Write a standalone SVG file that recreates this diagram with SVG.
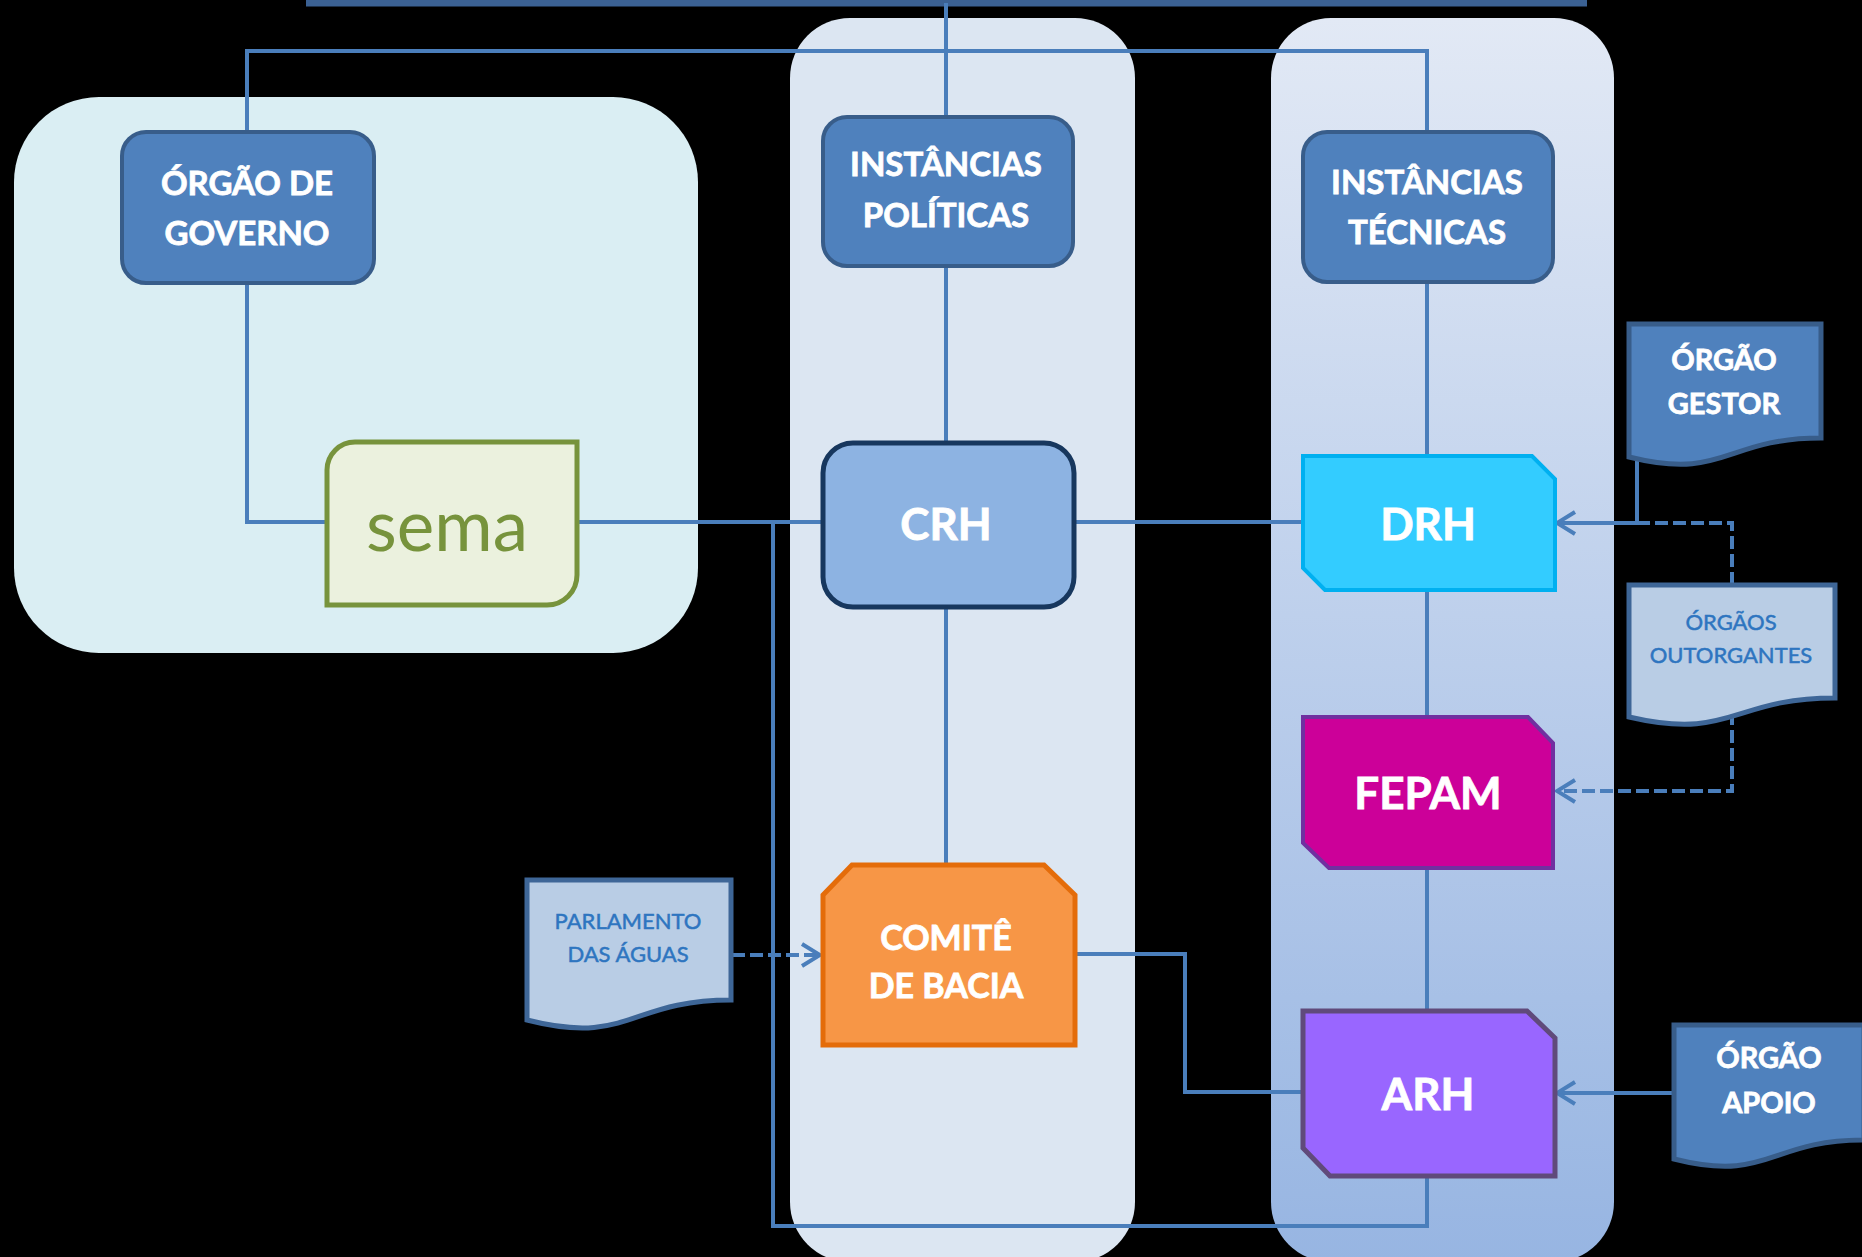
<svg xmlns="http://www.w3.org/2000/svg" width="1862" height="1257" viewBox="0 0 1862 1257">
<style>
.conn{fill:none;stroke:#4a7ebb;stroke-width:4}
.dash{fill:none;stroke:#4a7ebb;stroke-width:4;stroke-dasharray:13 5}
.bold{font-family:Lato,"Liberation Sans",sans-serif;font-weight:bold;fill:#ffffff;stroke:#ffffff;stroke-width:0.8;text-anchor:middle}
.reg{font-family:Lato,"Liberation Sans",sans-serif;text-anchor:middle}
.mainbox{fill:#4f81bd;stroke:#385d8a;stroke-width:4}
.doc1{fill:#4f81bd;stroke:#385d8a;stroke-width:5}
.doc2{fill:#b9cde5;stroke:#3e6697;stroke-width:5}
.doctext{font-family:Lato,"Liberation Sans",sans-serif;fill:#2e75c0;stroke:#2e75c0;stroke-width:0.5;text-anchor:middle;font-size:22px}
</style>
<defs>
<linearGradient id="gr" x1="0" y1="0" x2="0" y2="1">
<stop offset="0" stop-color="#e2e9f5"/>
<stop offset="1" stop-color="#97b5e2"/>
</linearGradient>
<marker id="arr" viewBox="0 0 22 26" refX="20" refY="13" markerWidth="22" markerHeight="26" markerUnits="userSpaceOnUse" orient="auto">
<path d="M2,2 L20,13 L2,24" fill="none" stroke="#4a7ebb" stroke-width="4"/>
</marker>
</defs>
<rect width="1862" height="1257" fill="#000000"/>
<g id="panels">
<rect x="14" y="97" width="684" height="556" rx="85" fill="#daeef3"/>
<rect x="790" y="18" width="345" height="1244" rx="60" fill="#dce6f2"/>
<rect x="1271" y="18" width="343" height="1244" rx="60" fill="url(#gr)"/>
</g>
<g id="connectors">
<line x1="306" y1="3" x2="1587" y2="3" stroke="#3b6193" stroke-width="7"/>
<path class="conn" d="M946,3 V117"/>
<path class="conn" d="M247,132 V51 H1427 V132"/>
<path class="conn" d="M247,283 V522 H327"/>
<path class="conn" d="M577,522 H823"/>
<path class="conn" d="M773,522 V1226 H1427 V1176"/>
<path class="conn" d="M946,266 V442"/>
<path class="conn" d="M946,607 V865"/>
<path class="conn" d="M1075,522 H1303"/>
<path class="conn" d="M1427,282 V456"/>
<path class="conn" d="M1427,590 V717"/>
<path class="conn" d="M1427,868 V1011"/>
<path class="conn" d="M1075,954 H1185 V1092 H1303"/>
<path class="conn" d="M1674,1093 H1557" marker-end="url(#arr)"/>
<path class="conn" d="M1637,455 V523 H1557" marker-end="url(#arr)"/>
<path class="dash" d="M1732,585 V523 H1637"/>
<path class="dash" d="M1732,712 V791 H1557" marker-end="url(#arr)"/>
<path class="dash" d="M732,955 H820" marker-end="url(#arr)"/>
</g>
<g id="orgao-governo">
<rect class="mainbox" x="122" y="132" width="252" height="151" rx="24"/>
<text class="bold" x="247" y="195" font-size="33">ÓRGÃO DE</text>
<text class="bold" x="247" y="245" font-size="33">GOVERNO</text>
</g>
<g id="instancias-politicas">
<rect class="mainbox" x="823" y="117" width="250" height="149" rx="24"/>
<text class="bold" x="946" y="176" font-size="33">INSTÂNCIAS</text>
<text class="bold" x="946" y="227" font-size="33">POLÍTICAS</text>
</g>
<g id="instancias-tecnicas">
<rect class="mainbox" x="1303" y="132" width="250" height="150" rx="24"/>
<text class="bold" x="1427" y="194" font-size="33">INSTÂNCIAS</text>
<text class="bold" x="1427" y="244" font-size="33">TÉCNICAS</text>
</g>
<g id="sema">
<path d="M355,442 H577 V575 A30,30 0 0 1 547,605 H327 V470 A28,28 0 0 1 355,442 Z" fill="#ebf1de" stroke="#77933c" stroke-width="5"/>
<text class="reg" x="447" y="551" font-size="71" fill="#77933c">sema</text>
</g>
<g id="crh">
<rect x="823" y="443" width="251" height="164" rx="30" fill="#8db3e2" stroke="#17375e" stroke-width="5"/>
<text class="bold" x="946" y="540" font-size="44">CRH</text>
</g>
<g id="drh">
<path d="M1303,456 H1532 L1555,479 V590 H1325 L1303,568 Z" fill="#33ccff" stroke="#00b0f0" stroke-width="4"/>
<text class="bold" x="1428" y="540" font-size="44">DRH</text>
</g>
<g id="fepam">
<path d="M1303,717 H1528 L1553,743 V868 H1329 L1303,843 Z" fill="#cc0099" stroke="#7030a0" stroke-width="4"/>
<text class="bold" x="1428" y="809" font-size="44">FEPAM</text>
</g>
<g id="arh">
<path d="M1303,1011 H1527 L1555,1038 V1176 H1330 L1303,1148 Z" fill="#9966ff" stroke="#604a7b" stroke-width="5"/>
<text class="bold" x="1428" y="1110" font-size="44">ARH</text>
</g>
<g id="comite">
<path d="M852,865 H1044 L1075,895 V1045 H823 V895 Z" fill="#f79646" stroke="#e46c0a" stroke-width="5"/>
<text class="bold" x="946" y="950" font-size="34">COMITÊ</text>
<text class="bold" x="946" y="998" font-size="34">DE BACIA</text>
</g>
<g id="parlamento">
<path class="doc2" d="M527,880 H731 V1000 C629,1000 629,1046 527,1020 Z"/>
<text class="doctext" x="628" y="929">PARLAMENTO</text>
<text class="doctext" x="628" y="962">DAS ÁGUAS</text>
</g>
<g id="orgao-gestor">
<path class="doc1" d="M1629,324 H1821 V438 C1725,438 1725,481 1629,457 Z"/>
<text class="bold" x="1724" y="370" font-size="29">ÓRGÃO</text>
<text class="bold" x="1724" y="414" font-size="29">GESTOR</text>
</g>
<g id="orgaos-outorgantes">
<path class="doc2" d="M1629,585 H1835 V698 C1732,698 1732,741 1629,717 Z"/>
<text class="doctext" x="1731" y="630">ÓRGÃOS</text>
<text class="doctext" x="1731" y="663">OUTORGANTES</text>
</g>
<g id="orgao-apoio">
<path class="doc1" d="M1674,1025 H1864 V1140 C1769,1140 1769,1183 1674,1159 Z"/>
<text class="bold" x="1769" y="1068" font-size="29">ÓRGÃO</text>
<text class="bold" x="1769" y="1113" font-size="29">APOIO</text>
</g>
</svg>
